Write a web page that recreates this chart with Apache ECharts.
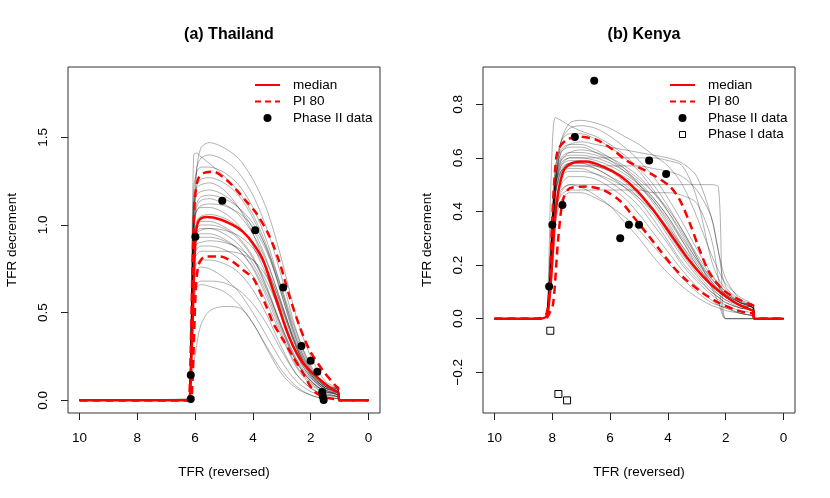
<!DOCTYPE html>
<html><head><meta charset="utf-8">
<script src="https://cdn.jsdelivr.net/npm/echarts@6/dist/echarts.min.js"></script>
<style>html,body{margin:0;padding:0;background:#fff}#c{width:830px;height:498px}</style>
</head><body><div id="c"></div><script>
// ---------- tick labels ----------
const xTicks = [0, 2, 4, 6, 8, 10];
const yTicksA = [0, 0.5, 1.0, 1.5];
const yTicksB = [-0.2, 0, 0.2, 0.4, 0.6, 0.8];

// ---------- (a) Thailand ----------
const gridXA = [10, 6.25, 6.15, 6.05, 5.95, 5.8, 5.5, 5.0, 4.5, 4.0, 3.5, 3.0, 2.5, 2.0, 1.5, 1.05, 1.0, 0];
const trajA = [
  [0,0,0.15,0.8,1.3,1.44,1.47,1.44,1.38,1.26,1.08,0.8,0.48,0.25,0.11,0.06,0,0],
  [0,0,0.4,1.4,1.41,1.39,1.35,1.28,1.19,1.06,0.87,0.6,0.33,0.16,0.07,0.04,0,0],
  [0,0,0.2,1.0,1.32,1.38,1.4,1.37,1.3,1.17,0.97,0.7,0.4,0.19,0.08,0.05,0,0],
  [0,0,0.3,1.2,1.3,1.33,1.33,1.3,1.23,1.1,0.9,0.63,0.35,0.17,0.08,0.06,0,0],
  [0,0,0.25,1.05,1.22,1.26,1.27,1.24,1.17,1.04,0.85,0.6,0.35,0.17,0.08,0.05,0,0],
  [0,0,0.3,1.1,1.17,1.19,1.2,1.17,1.1,0.98,0.79,0.55,0.31,0.15,0.07,0.04,0,0],
  [0,0,0.2,0.95,1.1,1.14,1.15,1.12,1.06,0.95,0.78,0.55,0.31,0.15,0.07,0.05,0,0],
  [0,0,0.35,1.02,1.08,1.1,1.1,1.07,1.0,0.88,0.7,0.47,0.26,0.13,0.06,0.03,0,0],
  [0,0,0.2,0.9,1.02,1.05,1.06,1.04,0.99,0.9,0.75,0.53,0.3,0.15,0.07,0.06,0,0],
  [0,0,0.3,0.95,1.0,1.02,1.02,0.99,0.93,0.82,0.64,0.42,0.23,0.11,0.05,0.03,0,0],
  [0,0,0.25,0.88,0.95,0.97,0.98,0.97,0.94,0.87,0.74,0.54,0.32,0.16,0.08,0.07,0,0],
  [0,0,0.3,0.88,0.93,0.95,0.95,0.92,0.86,0.75,0.58,0.38,0.2,0.1,0.04,0.02,0,0],
  [0,0,0.2,0.82,0.89,0.9,0.91,0.9,0.87,0.8,0.67,0.48,0.28,0.14,0.07,0.05,0,0],
  [0,0,0.3,0.82,0.86,0.88,0.88,0.86,0.81,0.71,0.55,0.36,0.19,0.09,0.04,0.02,0,0],
  [0,0,0.2,0.78,0.83,0.85,0.85,0.85,0.84,0.8,0.7,0.52,0.3,0.14,0.06,0.04,0,0],
  [0,0,0.25,0.72,0.78,0.8,0.8,0.78,0.73,0.63,0.48,0.3,0.15,0.07,0.03,0.02,0,0],
  [0,0,0.2,0.68,0.74,0.76,0.75,0.7,0.62,0.5,0.36,0.22,0.11,0.05,0.02,0.01,0,0],
  [0,0,0.15,0.6,0.66,0.68,0.68,0.67,0.63,0.55,0.43,0.28,0.15,0.07,0.03,0.02,0,0],
  [0,0,0.15,0.57,0.64,0.66,0.65,0.62,0.55,0.44,0.3,0.17,0.08,0.03,0.01,0.01,0,0],
  [0,0.01,0.1,0.2,0.31,0.43,0.51,0.535,0.53,0.44,0.29,0.15,0.07,0.03,0.01,0.01,0,0],
  [0,0,0.3,0.93,0.98,1.0,1.0,0.98,0.92,0.81,0.63,0.41,0.22,0.11,0.05,0.03,0,0],
  [0,0,0.2,0.95,1.08,1.11,1.12,1.11,1.07,0.99,0.84,0.62,0.37,0.18,0.08,0.06,0,0],
  [0,0,0.3,0.86,0.91,0.93,0.93,0.91,0.86,0.76,0.6,0.4,0.22,0.11,0.05,0.03,0,0],
  [0,0,0.35,1.15,1.21,1.23,1.24,1.2,1.1,0.95,0.74,0.5,0.27,0.13,0.06,0.03,0,0],
  [0,0,0.25,1.0,1.12,1.16,1.17,1.15,1.1,1.01,0.86,0.64,0.39,0.2,0.09,0.06,0,0],
  [0,0,0.3,0.9,0.96,0.98,0.98,0.95,0.89,0.78,0.62,0.42,0.24,0.12,0.05,0.04,0,0]
];
const medianXA = [10, 6.25, 6.18, 6.12, 6.07, 6.01, 5.95, 5.85, 5.6, 5.15, 4.7, 4.35, 4.0, 3.65, 3.3, 3.07, 2.84, 2.6, 2.26, 1.8, 1.22, 1.05, 1.0, 0];
const medianYA = [0, 0, 0.01, 0.27, 0.53, 0.84, 0.98, 1.03, 1.045, 1.033, 1.0, 0.962, 0.896, 0.80, 0.629, 0.515, 0.40, 0.306, 0.211, 0.135, 0.059, 0.045, 0, 0];
const upperXA = [10, 6.25, 6.2, 6.15, 6.1, 6.05, 6.0, 5.9, 5.72, 5.38, 4.91, 4.57, 4.22, 3.88, 3.42, 3.07, 2.73, 2.38, 2.04, 1.59, 1.11, 1.05, 1.0, 0];
const upperYA = [0, 0, 0.02, 0.3, 0.7, 1.0, 1.16, 1.26, 1.295, 1.304, 1.257, 1.2, 1.133, 1.067, 0.933, 0.783, 0.591, 0.42, 0.287, 0.173, 0.078, 0.07, 0, 0];
const lowerXA = [10, 6.2, 6.12, 6.05, 5.98, 5.9, 5.8, 5.66, 5.15, 4.69, 4.34, 3.99, 3.76, 3.53, 3.30, 2.95, 2.61, 2.26, 1.92, 1.57, 1.2, 1.05, 1.0, 0];
const lowerYA = [0, 0, 0.02, 0.3, 0.62, 0.76, 0.8, 0.82, 0.82, 0.79, 0.743, 0.696, 0.62, 0.534, 0.44, 0.344, 0.249, 0.154, 0.059, 0.02, 0.008, 0.005, 0, 0];
const phase2XA = [6.15, 6.15, 5.99, 5.06, 3.92, 2.95, 2.32, 2.0, 1.77, 1.6, 1.58, 1.55];
const phase2YA = [0.008, 0.145, 0.933, 1.138, 0.97, 0.643, 0.31, 0.225, 0.163, 0.047, 0.022, 0.002];

// ---------- (b) Kenya ----------
const gridXB = [10, 8.4, 8.2, 8.05, 7.9, 7.7, 7.4, 7.0, 6.5, 6.0, 5.5, 5.0, 4.5, 4.0, 3.5, 3.0, 2.5, 2.25, 2.0, 1.5, 1.05, 1.0, 0];
const trajB = [
  [0,0,0.01,0.5,0.75,0.74,0.72,0.7,0.68,0.65,0.61,0.56,0.5,0.42,0.33,0.24,0.16,0.13,0.1,0.06,0.04,0,0],
  [0,0,0.01,0.15,0.45,0.66,0.73,0.74,0.73,0.71,0.68,0.65,0.61,0.57,0.5,0.38,0.24,0.18,0.13,0.08,0.05,0,0],
  [0,0,0.01,0.2,0.5,0.66,0.71,0.72,0.71,0.68,0.64,0.59,0.53,0.45,0.36,0.26,0.17,0.13,0.1,0.06,0.04,0,0],
  [0,0,0.01,0.25,0.55,0.66,0.69,0.69,0.67,0.64,0.6,0.55,0.48,0.4,0.31,0.22,0.14,0.11,0.09,0.06,0.05,0,0],
  [0,0,0.01,0.2,0.5,0.62,0.65,0.66,0.65,0.64,0.63,0.62,0.61,0.6,0.58,0.53,0.38,0.25,0.15,0.07,0.04,0,0],
  [0,0,0.01,0.3,0.56,0.63,0.65,0.65,0.63,0.6,0.56,0.5,0.43,0.35,0.26,0.18,0.12,0.09,0.07,0.05,0.03,0,0],
  [0,0,0.01,0.18,0.48,0.59,0.62,0.63,0.62,0.6,0.57,0.53,0.47,0.4,0.32,0.23,0.15,0.12,0.09,0.06,0.05,0,0],
  [0,0,0.01,0.25,0.52,0.59,0.61,0.61,0.6,0.58,0.55,0.51,0.45,0.38,0.29,0.2,0.13,0.1,0.08,0.05,0.03,0,0],
  [0,0,0.01,0.2,0.48,0.57,0.6,0.6,0.6,0.6,0.6,0.6,0.6,0.59,0.57,0.45,0.22,0.15,0.11,0.06,0.04,0,0],
  [0,0,0.01,0.22,0.5,0.57,0.59,0.59,0.57,0.55,0.51,0.46,0.4,0.32,0.24,0.17,0.11,0.09,0.07,0.04,0.03,0,0],
  [0,0,0.01,0.15,0.45,0.55,0.58,0.58,0.57,0.55,0.53,0.49,0.44,0.37,0.29,0.21,0.14,0.11,0.08,0.05,0.04,0,0],
  [0,0,0.01,0.28,0.5,0.55,0.56,0.56,0.54,0.51,0.47,0.42,0.35,0.28,0.2,0.14,0.09,0.07,0.05,0.03,0.02,0,0],
  [0,0,0.01,0.2,0.46,0.53,0.55,0.55,0.54,0.52,0.49,0.45,0.4,0.34,0.27,0.2,0.13,0.1,0.08,0.05,0.04,0,0],
  [0,0,0.01,0.16,0.42,0.5,0.53,0.53,0.52,0.49,0.45,0.39,0.32,0.25,0.18,0.12,0.07,0.05,0.04,0.02,0.01,0,0],
  [0,0,0.01,0.2,0.42,0.48,0.5,0.5,0.5,0.5,0.5,0.5,0.5,0.5,0.5,0.5,0.5,0.49,0,0,0,0,0],
  [0,0,0.01,0.15,0.4,0.46,0.48,0.48,0.48,0.48,0.48,0.48,0.47,0.47,0.46,0.43,0.3,0.15,0,0,0,0,0],
  [0,0,0.01,0.12,0.38,0.47,0.5,0.49,0.46,0.42,0.36,0.3,0.23,0.17,0.12,0.08,0.05,0.04,0.03,0.02,0.01,0,0],
  [0,0,0.01,0.1,0.35,0.44,0.47,0.47,0.45,0.42,0.38,0.33,0.27,0.21,0.15,0.1,0.06,0.05,0.04,0.02,0.01,0,0],
  [0,0,0.01,0.22,0.52,0.6,0.62,0.62,0.61,0.59,0.56,0.52,0.47,0.41,0.33,0.23,0.12,0.06,0,0,0,0,0],
  [0,0,0.01,0.2,0.47,0.55,0.57,0.57,0.57,0.57,0.57,0.57,0.56,0.55,0.53,0.48,0.38,0.25,0.12,0.07,0.05,0,0],
  [0,0,0.01,0.24,0.51,0.58,0.6,0.6,0.59,0.57,0.54,0.5,0.45,0.38,0.3,0.22,0.15,0.12,0.09,0.06,0.04,0,0],
  [0,0,0.01,0.2,0.47,0.54,0.57,0.57,0.56,0.53,0.5,0.45,0.39,0.31,0.23,0.16,0.1,0.08,0.06,0.04,0.03,0,0],
  [0,0,0.01,0.22,0.52,0.62,0.64,0.64,0.62,0.59,0.55,0.5,0.44,0.36,0.27,0.19,0.12,0.1,0.08,0.05,0.04,0,0],
  [0,0,0.01,0.26,0.5,0.56,0.58,0.58,0.56,0.53,0.49,0.44,0.37,0.29,0.21,0.15,0.1,0.08,0.06,0.04,0.03,0,0]
];
const medianXB = [10, 8.5, 8.2, 8.1, 8.0, 7.9, 7.8, 7.7, 7.57, 7.28, 6.82, 6.24, 5.66, 5.09, 4.51, 3.93, 3.36, 2.78, 2.2, 1.63, 1.11, 1.05, 1.0, 0];
const medianYB = [0, 0, 0.01, 0.08, 0.22, 0.38, 0.47, 0.52, 0.56, 0.582, 0.586, 0.567, 0.533, 0.48, 0.406, 0.319, 0.231, 0.157, 0.10, 0.057, 0.032, 0.03, 0, 0];
const upperXB = [10, 8.5, 8.2, 8.1, 8.0, 7.9, 7.8, 7.51, 7.05, 6.47, 5.9, 5.43, 4.51, 3.93, 3.59, 3.24, 2.9, 2.55, 2.09, 1.63, 1.11, 1.05, 1.0, 0];
const upperYB = [0, 0, 0.02, 0.12, 0.38, 0.56, 0.63, 0.667, 0.679, 0.667, 0.63, 0.59, 0.536, 0.493, 0.443, 0.356, 0.256, 0.169, 0.107, 0.076, 0.051, 0.05, 0, 0];
const lowerXB = [10, 8.5, 8.2, 8.1, 7.97, 7.8, 7.63, 7.39, 6.82, 6.24, 5.66, 5.2, 4.74, 4.28, 3.82, 3.36, 2.78, 2.2, 1.63, 1.11, 1.05, 1.0, 0];
const lowerYB = [0, 0, 0.003, 0.02, 0.057, 0.294, 0.443, 0.487, 0.493, 0.48, 0.44, 0.381, 0.319, 0.256, 0.194, 0.144, 0.095, 0.057, 0.032, 0.02, 0.02, 0, 0];
const phase2XB = [8.11, 8.0, 7.65, 7.22, 6.55, 5.65, 5.35, 5.0, 4.65, 4.06];
const phase2YB = [0.12, 0.35, 0.424, 0.678, 0.888, 0.30, 0.35, 0.35, 0.59, 0.54];
const phase1XB = [8.07, 7.79, 7.49];
const phase1YB = [-0.045, -0.281, -0.305];

// ---------- build ----------
const FONT = "'Liberation Sans', Arial, Helvetica, sans-serif";
const pairs = (xs, ys) => xs.map((x, i) => [x, ys[i]]);
const fmt1 = v => (v < 0 ? '\u2212' : '') + Math.abs(v).toFixed(1);

function xAxisCfg(gi) {
  return {
    gridIndex: gi, type: 'value', min: -0.4, max: 10.4, inverse: true,
    splitLine: {show: false}, axisLine: {show: false, onZero: false},
    axisTick: {show: true, length: 7, customValues: xTicks, lineStyle: {color: '#222'}},
    axisLabel: {customValues: xTicks, color: '#000', fontSize: 13.5, fontFamily: FONT, margin: 18, formatter: v => String(v)},
    name: 'TFR (reversed)', nameLocation: 'middle', nameGap: 52,
    nameTextStyle: {color: '#000', fontSize: 13.5, fontFamily: FONT}
  };
}
function yAxisCfg(gi, min, max, ticks) {
  return {
    gridIndex: gi, type: 'value', min: min, max: max,
    splitLine: {show: false}, axisLine: {show: false, onZero: false},
    axisTick: {show: true, length: 7, customValues: ticks, lineStyle: {color: '#222'}},
    axisLabel: {customValues: ticks, rotate: 90, color: '#000', fontSize: 13.5, fontFamily: FONT, margin: 18, formatter: fmt1},
    name: 'TFR decrement', nameLocation: 'middle', nameGap: 49, nameRotate: 90,
    nameTextStyle: {color: '#000', fontSize: 13.5, fontFamily: FONT}
  };
}

const series = [];
function addPanel(gi, gridX, traj, mx, my, ux, uy, lx, ly, p2x, p2y) {
  traj.forEach(ys => series.push({
    type: 'line', xAxisIndex: gi, yAxisIndex: gi, data: pairs(gridX, ys),
    showSymbol: false, symbol: 'none', smooth: 0.3, silent: true,
    lineStyle: {color: 'rgba(0,0,0,0.3)', width: 1}, z: 1
  }));
  [[ux, uy, 'dashed'], [lx, ly, 'dashed'], [mx, my, 'solid']].forEach(([xs, ys, t]) => series.push({
    type: 'line', xAxisIndex: gi, yAxisIndex: gi, data: pairs(xs, ys),
    showSymbol: false, symbol: 'none', smooth: 0.3, silent: true,
    lineStyle: {color: '#ff0000', width: 2.5, type: t === 'dashed' ? [8, 5] : 'solid'}, z: 3
  }));
  series.push({
    type: 'scatter', xAxisIndex: gi, yAxisIndex: gi, data: pairs(p2x, p2y),
    symbol: 'circle', symbolSize: 8, itemStyle: {color: '#000', opacity: 1}, z: 5
  });
}
addPanel(0, gridXA, trajA, medianXA, medianYA, upperXA, upperYA, lowerXA, lowerYA, phase2XA, phase2YA);
addPanel(1, gridXB, trajB, medianXB, medianYB, upperXB, upperYB, lowerXB, lowerYB, phase2XB, phase2YB);
series.push({
  type: 'scatter', xAxisIndex: 1, yAxisIndex: 1, data: pairs(phase1XB, phase1YB),
  symbol: 'rect', symbolSize: 7, itemStyle: {color: '#fff', borderColor: '#000', borderWidth: 1, opacity: 1}, z: 5
});

function legendItems(ox, withPhase1) {
  const items = [
    {type: 'line', shape: {x1: ox, y1: 85, x2: ox + 25, y2: 85}, style: {stroke: '#ff0000', lineWidth: 2}},
    {type: 'line', shape: {x1: ox, y1: 101.5, x2: ox + 25, y2: 101.5}, style: {stroke: '#ff0000', lineWidth: 2, lineDash: [6, 4]}},
    {type: 'circle', shape: {cx: ox + 12.5, cy: 118, r: 4}, style: {fill: '#000'}}
  ];
  const labels = ['median', 'PI 80', 'Phase II data'];
  const ys = [85, 101.5, 118];
  if (withPhase1) {
    items.push({type: 'rect', shape: {x: ox + 9.5, y: 131.5, width: 6, height: 6}, style: {fill: '#fff', stroke: '#000', lineWidth: 1}});
    labels.push('Phase I data'); ys.push(134.5);
  }
  labels.forEach((t, i) => items.push({
    type: 'text', x: ox + 38, y: ys[i],
    style: {text: t, fill: '#000', font: '13.5px ' + FONT, textAlign: 'left', textVerticalAlign: 'middle'}
  }));
  return items;
}

const chart = echarts.init(document.getElementById('c'), null, {renderer: 'canvas'});
chart.setOption({
  animation: false,
  backgroundColor: '#fff',
  title: [
    {text: '(a) Thailand', left: 224, top: 22, textAlign: 'center', textStyle: {fontSize: 16, fontWeight: 'bold', color: '#000', fontFamily: FONT}},
    {text: '(b) Kenya', left: 639, top: 22, textAlign: 'center', textStyle: {fontSize: 16, fontWeight: 'bold', color: '#000', fontFamily: FONT}}
  ],
  grid: [
    {left: 68, top: 67, width: 312, height: 346, show: true, borderColor: '#333', borderWidth: 1, backgroundColor: 'transparent'},
    {left: 483, top: 67, width: 312, height: 346, show: true, borderColor: '#333', borderWidth: 1, backgroundColor: 'transparent'}
  ],
  xAxis: [xAxisCfg(0), xAxisCfg(1)],
  yAxis: [yAxisCfg(0, -0.0724, 1.901, yTicksA), yAxisCfg(1, -0.352, 0.939, yTicksB)],
  series: series,
  graphic: [...legendItems(255, false), ...legendItems(670, true)]
});
</script></body></html>
